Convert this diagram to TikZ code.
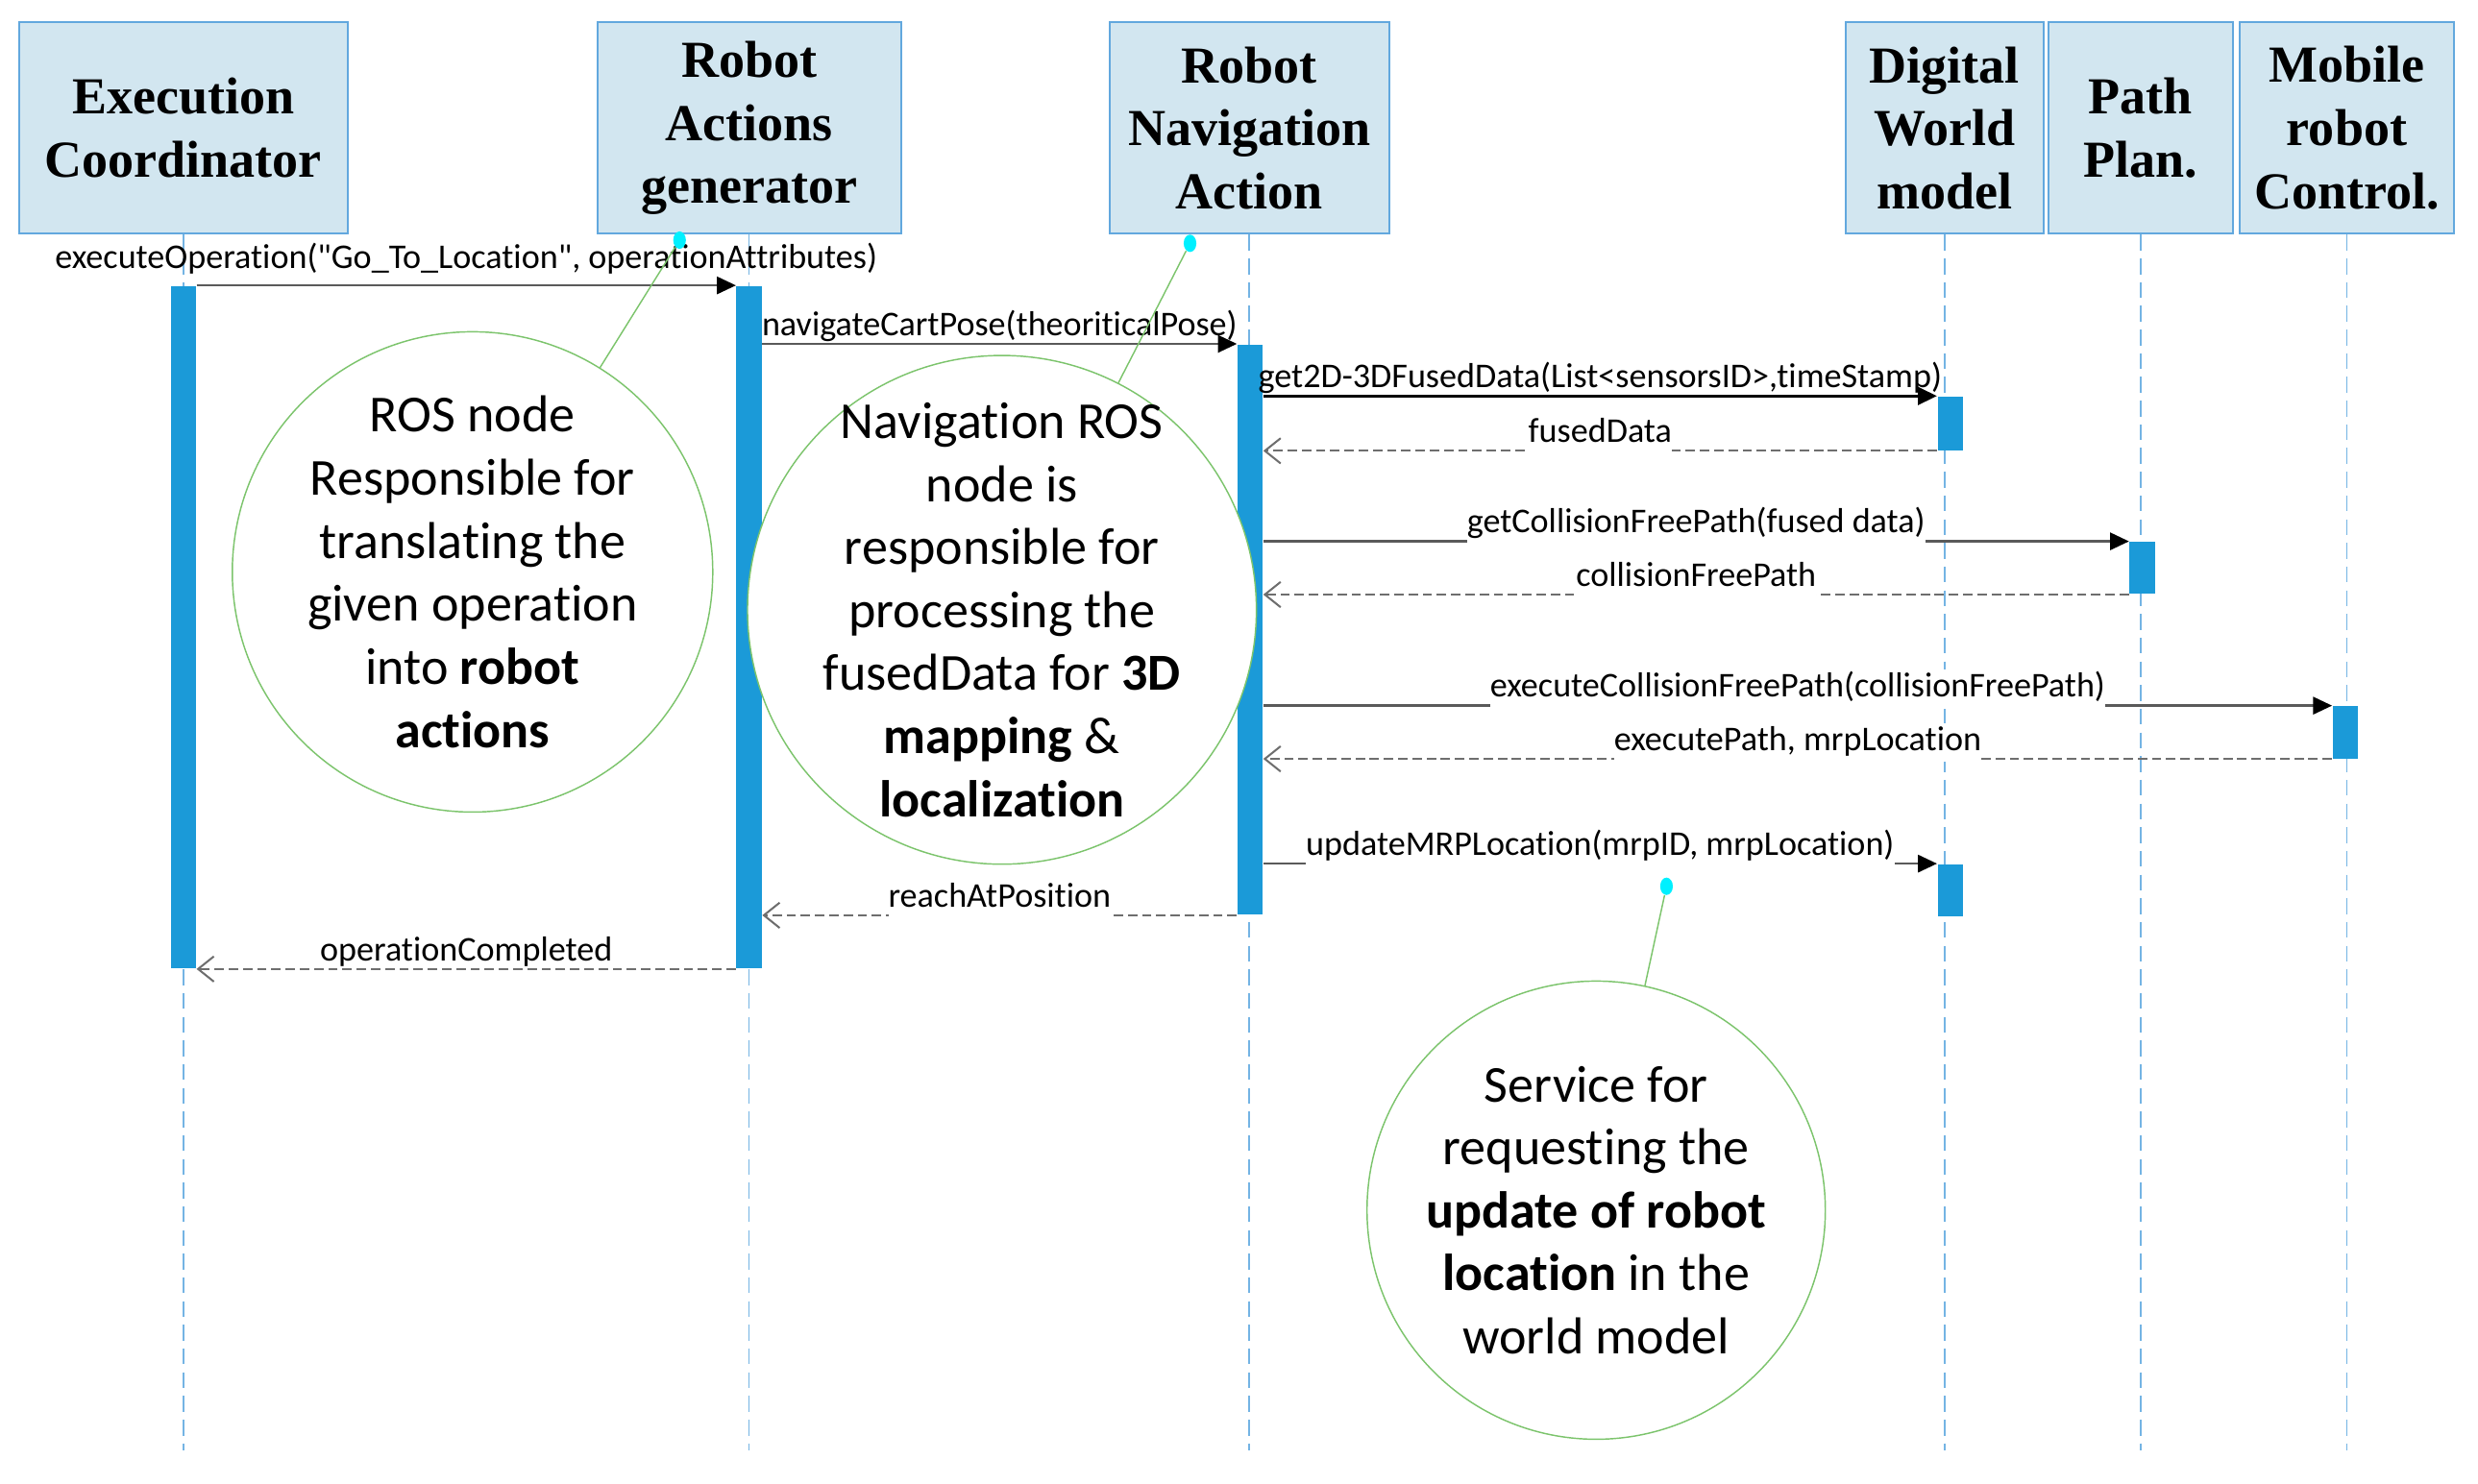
\documentclass[tikz,border=0pt]{standalone}
\usepackage{fontspec}
\setmainfont{Carlito}[Ligatures={NoCommon}]
\newfontfamily\headfont{Liberation Serif}
\usetikzlibrary{arrows.meta, positioning, calc, shapes.geometric}
\definecolor{hdrfill}{HTML}{D2E6F0}
\definecolor{hdrline}{HTML}{62A8DE}
\definecolor{actblue}{HTML}{1B9AD8}
\definecolor{lifeblue}{HTML}{74B4E4}
\definecolor{notegreen}{HTML}{7CC46C}
\definecolor{msggray}{HTML}{5A5A5A}
\definecolor{retgray}{HTML}{6E6E6E}
\definecolor{dotcyan}{HTML}{00F0FF}
\newcommand\hdrfont{\headfont\bfseries\fontsize{18.7}{22.7}\selectfont}
\newcommand\msgfont{\fontsize{12.5}{15}\selectfont}
\newcommand\notefont{\fontsize{18.7}{22.7}\selectfont}

\begin{document}
\begin{tikzpicture}[
  x=0.2mm, y=-0.2mm,
  call/.style={-{Triangle[length=2.4mm, width=2.2mm, color=black]}, line width=0.8pt, msggray},
  reply/.style={-{Straight Barb[length=2mm, width=3.2mm]}, line width=0.7pt, retgray,
    dash pattern=on 1.2mm off 0.6mm},
]

% =============================================
% Styles
% =============================================
\tikzset{
  hdrbox/.style={
    draw=hdrline, line width=0.7pt, fill=hdrfill, font=\hdrfont,
    align=center, inner sep=0pt, minimum height=26.8mm,
    minimum width=#1,
  },
  actbar/.style={
    rectangle, fill=actblue, inner sep=0pt, minimum width=3.2mm,
    minimum height=#1,
  },
  lifeline/.style={lifeblue, line width=0.6pt, dash pattern=on 2mm off 1mm},
  msglabel/.style={font=\msgfont, text=black, anchor=base, inner xsep=0pt,
    inner ysep=1pt, yshift=3pt},
  gaplabel/.style={msglabel, fill=white, text depth=0.3em},
  notecircle/.style={circle, draw=notegreen, line width=0.5pt, fill=white,
    inner sep=0pt, minimum size=#1},
  notetext/.style={font=\notefont, align=center, inner sep=0pt},
  notedot/.style={ellipse, fill=dotcyan, inner sep=0pt,
    minimum width=1.6mm, minimum height=2.2mm},
  noteline/.style={notegreen, line width=0.5pt},
}

\useasboundingbox (0,0) rectangle (1568,939);

% =============================================
% Lifeline heads
% =============================================
\node[hdrbox=41.6mm] (ec)  at (116,81)    {Execution\\Coordinator};
\node[hdrbox=38.4mm] (rag) at (474,81)    {Robot\\Actions\\generator};
\node[hdrbox=35.4mm] (rna) at (790.5,81)  {Robot\\Navigation\\Action};
\node[hdrbox=25mm]   (dwm) at (1230.5,81) {Digital\\World\\model};
\node[hdrbox=23.4mm] (pp)  at (1354.5,81) {Path\\Plan.};
\node[hdrbox=27.2mm] (mrc) at (1485,81)   {Mobile\\robot\\Control.};

% dashed lifelines
\coordinate (lifeend) at (0,918);
\foreach \n in {ec,rag,rna,dwm,pp,mrc}
  \draw[lifeline] (\n.south) -- (\n.south |- lifeend);

% =============================================
% Activation bars
% =============================================
\node[actbar=86.4mm] (ecbar)  at (116,397)    {};
\node[actbar=86.4mm] (ragbar) at (474,397)    {};
\node[actbar=72.2mm] (rnabar) at (791,398.5)  {};
\node[actbar=6.8mm]  (dwm1)   at (1234,268)   {};
\node[actbar=6.6mm]  (ppbar)  at (1355.5,359.5) {};
\node[actbar=6.6mm]  (mrcbar) at (1484,463.5) {};
\node[actbar=6.6mm]  (dwm2)   at (1234,563.5) {};

% =============================================
% Messages
% =============================================
\draw[call] (ecbar.north east) -- (ragbar.north west)
  node[msglabel, midway, yshift=3pt] {executeOperation(\textquotedbl Go\_To\_Location\textquotedbl, operationAttributes)};

\draw[call] (ragbar.east |- rnabar.north) -- (rnabar.north west)
  node[msglabel, midway] {navigateCartPose(theoriticalPose)};

\draw[call, black, line width=1.2pt] (rnabar.east |- dwm1.north) -- (dwm1.north west)
  node[msglabel, midway] {get2D-3DFusedData(List<sensorsID>,timeStamp)};

\draw[reply] (dwm1.south west) -- (rnabar.east |- dwm1.south)
  node[gaplabel, midway] {fusedData};

\draw[call] (rnabar.east |- ppbar.north) -- (ppbar.north west)
  node[gaplabel, midway] {getCollisionFreePath(fused data)};

\draw[reply] (ppbar.south west) -- (rnabar.east |- ppbar.south)
  node[gaplabel, midway] {collisionFreePath};

\draw[call] (rnabar.east |- mrcbar.north) -- (mrcbar.north west)
  node[gaplabel, midway] {executeCollisionFreePath(collisionFreePath)};

\draw[reply] (mrcbar.south west) -- (rnabar.east |- mrcbar.south)
  node[gaplabel, midway] {executePath, mrpLocation};

\draw[call] (rnabar.east |- dwm2.north) -- (dwm2.north west)
  node[gaplabel, midway] {updateMRPLocation(mrpID, mrpLocation)};

\draw[reply] (rnabar.south west) -- (ragbar.east |- rnabar.south)
  node[gaplabel, midway] {reachAtPosition};

\draw[reply] (ragbar.south west) -- (ecbar.south east)
  node[msglabel, midway] {operationCompleted};

% =============================================
% Notes
% =============================================
\node[notecircle=60.8mm] (note1) at (299,362) {};
\node[notetext] (note1txt) at (note1)
  {ROS node\\Responsible for\\translating the\\given operation\\into \textbf{robot}\\\textbf{actions}};
\node[notedot] (dot1) at (430,152) {};
\draw[noteline] (dot1) -- (note1);

\node[notecircle=64.4mm] (note2) at (634,386) {};
\node[notetext] (note2txt) at (note2)
  {Navigation ROS\\node is\\responsible for\\processing the\\fusedData for \textbf{3D}\\\textbf{mapping} \&\\\textbf{localization}};
\node[notedot] (dot2) at (753,154) {};
\draw[noteline] (dot2) -- (note2);

\node[notecircle=58mm] (note3) at (1010,766) {};
\node[notetext] (note3txt) at (note3)
  {Service for\\requesting the\\\textbf{update of robot}\\\textbf{location} in the\\world model};
\node[notedot] (dot3) at (1054.5,561) {};
\draw[noteline] (dot3) -- (note3);

\end{tikzpicture}
\end{document}
